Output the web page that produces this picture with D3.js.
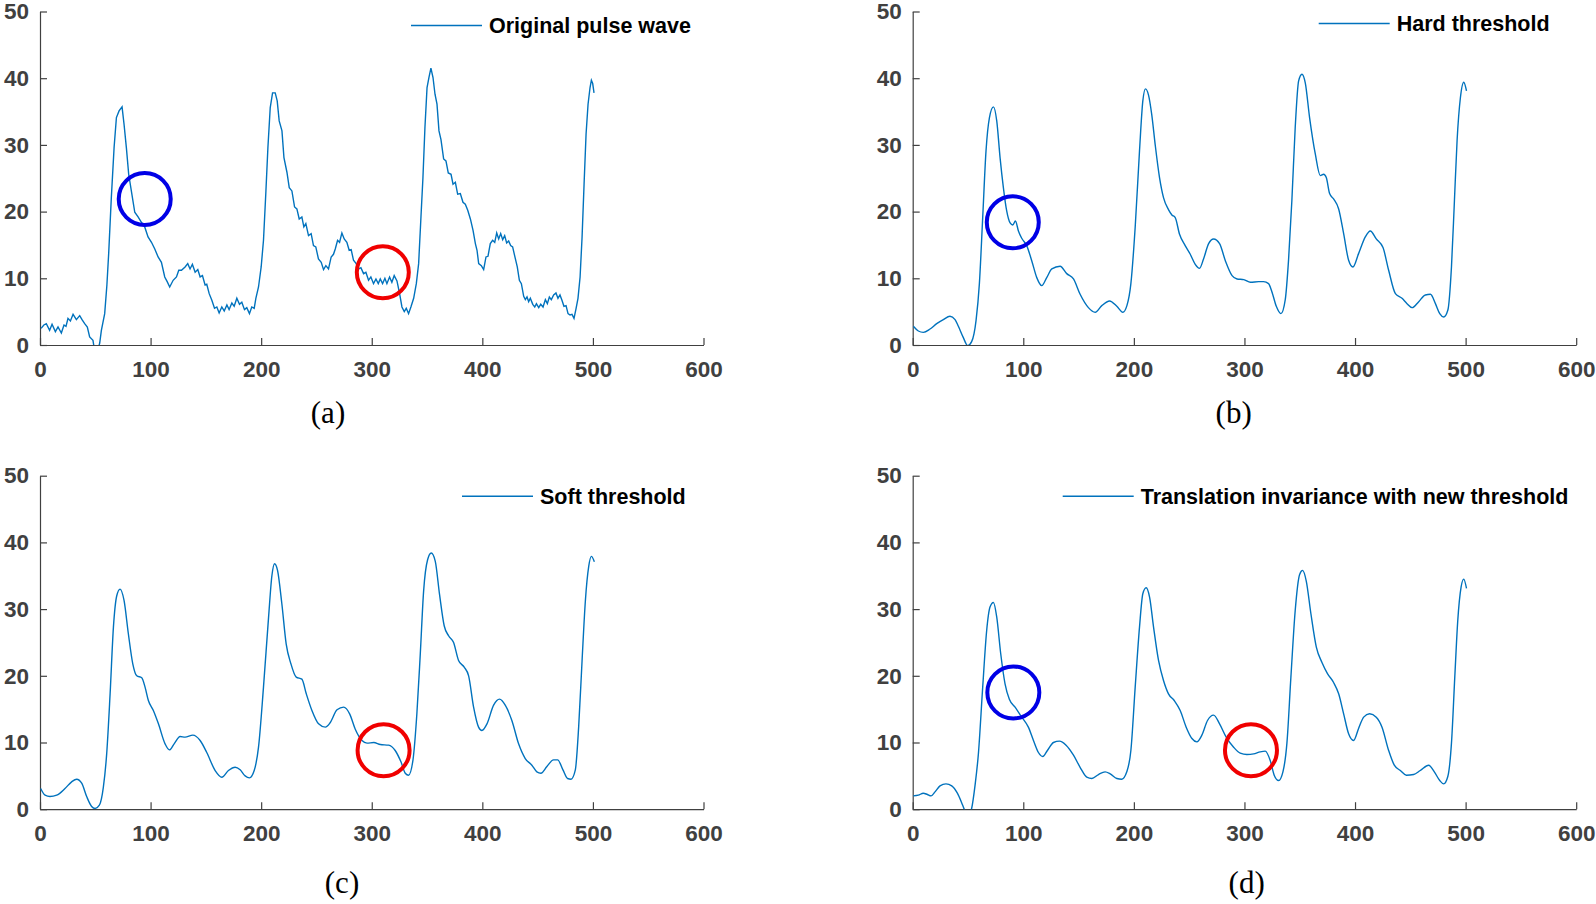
<!DOCTYPE html>
<html>
<head>
<meta charset="utf-8">
<script src="https://cdn.jsdelivr.net/npm/d3@7"></script>
<style>
  body { margin: 0; background: #ffffff; }
  .tick text { font-family: "Liberation Sans", Arial, sans-serif; font-weight: bold; font-size: 22.5px; fill: #404040; }
  .domain, .tick line { stroke: #404040; stroke-width: 1.2; }
</style>
</head>
<body>
<script>
// values: [sample, amplitude]
var originalWave = [[1,2.5],[3.5,3.0],[5.7,3.2],[8.7,2.2],[10.9,3.1],[13.9,2.0],[16.3,2.7],[19.3,1.8],[21.7,3.0],[23.5,2.8],[25.3,4.0],[27.5,3.6],[29.9,4.6],[32.9,3.8],[35.9,4.4],[38,3.8],[40.4,3.2],[42.8,2.7],[44.9,1.2],[47.9,0.7],[50,-1.5],[52,-1.0],[54,0.3],[55.5,2.2],[58.5,4.7],[60.5,9],[62.1,13.7],[64.5,22.1],[67,29.6],[69.1,34.1],[71.5,35.1],[74.2,35.7],[76,33.1],[78.1,29.6],[80.2,25.6],[82.6,23.1],[85.7,19.9],[88.7,19.2],[91.7,18.4],[94.7,17.7],[97.7,16.2],[100.8,15.4],[103.8,14.4],[106.8,13.2],[109.8,12.4],[112.8,10.2],[115,9.5],[117.3,8.7],[120.4,9.7],[123.4,10.2],[125.5,11.2],[127.9,11.2],[131.2,11.7],[133.6,12.2],[135.7,11.4],[137.8,12.1],[140.3,10.9],[142.7,11.3],[144.8,10.2],[146.9,10.4],[149.3,9.0],[150.8,9.1],[153,7.7],[155.4,6.7],[157.8,5.5],[159.9,5.7],[162,4.8],[164.4,5.7],[166.6,5.1],[169,6.0],[171,5.3],[173.5,6.3],[175.6,5.8],[178,7.0],[180.4,6.1],[182.5,6.4],[184.9,5.3],[187,5.6],[189.4,4.7],[191.5,5.7],[193.7,5.5],[195.2,7.0],[197.6,8.7],[200,11.7],[202.1,15.7],[204.3,23.1],[206.1,29.6],[208.2,35.6],[210.3,37.8],[212.7,37.8],[214.5,36.6],[216.3,33.6],[218.8,32.1],[220.6,28.1],[223.3,25.9],[225.4,23.6],[227.8,23.1],[230.2,20.7],[232.3,20.4],[234.4,18.9],[236.8,19.2],[238.6,17.7],[240.4,18.2],[242.8,16.4],[245.2,16.7],[247.3,14.9],[249.4,14.7],[251.8,12.9],[254.3,12.4],[256.4,11.3],[258.5,11.9],[260.9,11.4],[263.3,13.2],[265.4,13.6],[267,14.4],[269.1,15.7],[270.9,15.4],[273,16.8],[275.1,15.9],[277.5,15.4],[279.6,14.2],[281.4,14.3],[283.5,12.7],[285.9,12.2],[288.1,11.4],[290.2,11.6],[292.6,10.7],[294.7,10.9],[297.1,9.7],[299.2,10.2],[301.6,9.2],[303.8,9.9],[305.9,9.2],[307.7,9.9],[309.8,9.2],[311.9,10.0],[313.7,9.2],[316.1,10.2],[318.2,9.4],[320.3,10.4],[322.8,9.6],[325.2,7.7],[327.3,5.7],[329.4,5.0],[331.2,5.5],[333.3,4.7],[335.4,5.7],[337.9,7.0],[340.3,9.2],[342.4,12.2],[344.5,19.2],[346.3,25.1],[348.1,32.6],[350,38.6],[351.7,40.1],[353.5,41.5],[355.4,40.1],[357.2,37.6],[359,36.1],[360.8,32.1],[362.6,30.8],[365,27.9],[367.1,27.6],[369.2,25.8],[371.7,25.6],[373.5,24.1],[375.6,24.4],[377.7,22.6],[380.1,22.7],[382.5,21.4],[384.6,21.1],[386.8,20.2],[389.2,18.9],[391.6,17.2],[393.7,15.2],[395.2,14.2],[396.7,12.2],[399.1,11.9],[401.2,11.3],[403.3,13.2],[405.1,13.3],[407.2,15.2],[409.3,15.7],[411.2,15.4],[413,16.8],[414.8,15.9],[416.6,16.7],[418.4,15.8],[420.2,16.4],[422,15.3],[423.8,15.6],[425.6,14.9],[427.4,14.7],[429.9,12.9],[431.6,11.7],[433.5,9.7],[435.3,9.2],[437.4,7.3],[438.9,6.8],[440.4,7.2],[441.9,6.5],[443.4,7.0],[445.6,6.1],[447.4,5.7],[448.9,6.2],[451,5.6],[452.8,6.1],[454.9,5.7],[457,6.8],[458.8,6.2],[460.6,7.2],[462.4,6.8],[464.5,7.5],[466.6,7.8],[468.4,7.0],[470.2,7.5],[472,6.7],[473.8,5.8],[475.7,5.9],[477.5,4.7],[479.3,4.5],[481.1,4.6],[482.9,4.0],[484.7,5.4],[486.5,7.0],[488.4,10.2],[490.2,16.2],[492,24.1],[493.8,31.6],[495.6,36.1],[497.4,38.6],[498.6,39.7],[499.8,39.2],[501,37.8]];

var hardWave = [[0.6,2.8],[5.1,2.1],[9.6,1.9],[15.7,2.4],[21.7,3.2],[27.7,3.8],[33.7,4.3],[38.3,3.8],[41.3,2.8],[45.8,1.1],[49.7,-0.1],[53.3,0.5],[57.3,3.7],[60.3,9.2],[63.3,19.1],[66.3,29.1],[69.4,34.1],[73,35.7],[76,33.6],[79,28.1],[82,23.6],[85,20.1],[88.1,18.3],[90.5,18.0],[92.9,18.6],[95.6,17.1],[98.6,16.0],[103.1,14.9],[107.7,12.6],[112.2,10.1],[116.7,8.9],[121.2,10.1],[125.8,11.4],[133.3,11.8],[139.3,10.7],[145.4,9.9],[151.4,7.6],[158.9,5.6],[165,4.9],[171,5.9],[178,6.6],[184.6,5.8],[190,4.9],[193.7,5.9],[197.3,9.2],[201.2,17.7],[205.1,29.1],[208.1,36.6],[210.5,38.4],[213.2,37.5],[216.2,34.5],[219.3,30.0],[223.2,25.1],[226.8,22.1],[231.3,20.3],[234.4,19.5],[237.4,19.1],[241.3,16.6],[246.4,14.9],[251,13.6],[255.5,12.1],[259.4,11.5],[263,12.9],[267.6,15.2],[272.1,15.9],[277.5,15.2],[282.8,12.6],[288.8,10.4],[293.3,9.9],[299.4,9.8],[305.4,9.4],[312.9,9.5],[317.3,9.5],[321.8,9.2],[324.8,8.0],[328.8,5.8],[333,4.7],[336.9,6.8],[339.9,12.8],[342.9,21.7],[345.9,32.6],[349,39.6],[352,40.6],[355,39.3],[358.9,34.1],[364.1,28.6],[368.6,25.4],[371.6,25.6],[374,25.1],[377,22.7],[380.6,21.9],[385.2,20.4],[389.7,16.7],[394.2,12.7],[398.1,11.7],[403.2,13.7],[409.3,16.2],[413.8,17.1],[419.2,15.9],[425.3,14.6],[430.4,11.2],[436.5,7.7],[442.5,7.0],[447,6.2],[451.6,5.6],[457.6,6.5],[463.6,7.5],[468.2,7.6],[472.7,6.2],[476.6,4.7],[480.2,4.2],[483.9,5.2],[487.2,11.7],[489.9,21.7],[492.3,30.7],[495.3,37.1],[498.3,39.4],[500.8,38.1]];

var softWave = [[0.6,3.1],[4.6,2.1],[9,1.9],[15.1,2.1],[22.6,3.1],[28.6,4.1],[33.2,4.5],[37.7,3.9],[42.2,1.9],[46.7,0.4],[49.8,0.1],[53.7,0.6],[57.3,3.3],[60.3,8.3],[63.4,17.3],[66.4,27.3],[69.4,32.0],[72.4,33.0],[76,31.3],[79.9,26.3],[83.9,21.8],[87.5,20.0],[92,19.7],[95,18.3],[98,16.3],[102.5,14.8],[107.1,12.8],[113.1,9.8],[117,8.9],[121.3,9.8],[126.7,10.9],[131.2,10.8],[138.2,11.1],[144.8,10.3],[150.8,8.5],[158.4,5.8],[164.4,4.8],[170.4,5.8],[176.5,6.3],[181,5.9],[185.5,5.0],[189.4,4.7],[193.7,5.8],[197.6,9.3],[202.1,18.3],[206.7,28.8],[209.7,35.0],[212.1,36.8],[214.8,35.8],[218.7,30.8],[222.6,24.8],[226.9,21.8],[231.7,19.8],[236.8,19.5],[240.8,17.3],[245.9,14.8],[251.9,12.8],[258,12.3],[262.5,13.0],[268.6,14.9],[274.6,15.3],[280,14.3],[285.1,12.0],[291.2,10.3],[295.7,9.9],[301.8,10.0],[307.8,9.7],[315.2,9.6],[321.2,8.8],[326.4,7.1],[330.3,5.4],[333.3,5.1],[337.3,7.4],[340.8,14.3],[343.9,23.3],[346.9,32.7],[350.5,37.4],[353.8,38.4],[357.4,37.2],[361.3,32.2],[365.5,27.5],[369.5,26.0],[374,25.0],[378.5,22.3],[383.6,21.3],[387.6,20.0],[392.1,15.3],[396.6,12.3],[399.6,11.8],[404.2,12.8],[410.2,15.6],[415.6,16.5],[420.7,15.6],[426.7,13.3],[432.8,9.8],[438.8,7.6],[444.8,6.6],[449.3,5.6],[453,5.4],[458.4,6.4],[464.4,7.4],[468.1,7.4],[472.9,5.9],[477.1,4.6],[480.2,4.5],[484.1,5.9],[487.1,12.3],[490.2,22.3],[493.2,31.3],[496.2,36.4],[498.6,37.9],[501.3,37.1]];

var newWave = [[0.6,2.0],[5.1,2.1],[9.6,2.4],[13.3,2.2],[16.6,2.0],[20.2,2.6],[24.7,3.5],[30.1,3.8],[35.3,3.5],[40.4,2.4],[45.2,0.6],[48.2,-0.6],[50.6,-0.85],[53.3,0.1],[56.4,3.6],[59.4,8.3],[63.3,18.3],[66.9,26.8],[69.9,30.3],[73,31.0],[76,28.8],[79.6,23.3],[83.5,18.8],[87.4,16.5],[92.6,15.3],[98.6,13.8],[104.6,12.3],[109.2,10.3],[113.7,8.5],[117.6,7.9],[121.8,8.8],[127.3,10.0],[132.7,10.2],[138.7,9.6],[145.4,8.1],[152,6.1],[157.4,4.8],[162,4.6],[168,5.2],[174,5.6],[178.6,5.3],[184.6,4.6],[189.1,4.5],[193.6,5.6],[197.3,8.8],[201.2,18.3],[205.1,27.3],[208.1,32.3],[211.1,33.2],[214.2,31.8],[217.8,27.3],[222.3,22.3],[226.8,19.3],[231.3,17.3],[236.5,16.3],[241.9,14.8],[247.3,12.3],[252.5,10.6],[257,10.1],[261.5,11.1],[266.6,13.3],[272.1,14.1],[277.5,12.8],[283.5,10.8],[290.2,9.3],[296.2,8.4],[302.2,8.2],[308.3,8.3],[314.3,8.6],[318.8,8.7],[323.3,7.3],[326.9,5.1],[330.9,4.3],[334.8,5.6],[338.4,9.9],[342,19.8],[345.9,29.8],[349.9,35.2],[352.6,35.8],[355.9,34.2],[360.1,29.3],[365,24.3],[370.1,22.0],[375.2,20.3],[380.6,19.0],[385.2,17.3],[389.7,14.3],[394.2,11.3],[398.7,10.3],[403.2,12.1],[407.8,13.8],[413.2,14.3],[419.2,13.8],[424.4,12.3],[430.4,8.8],[435.5,6.6],[441,5.8],[446.4,5.1],[453,5.2],[459,5.8],[466.6,6.6],[471.7,5.6],[476.6,4.3],[480.2,3.8],[483.9,4.9],[487.2,9.9],[490.2,19.8],[492.9,28.3],[495.9,33.3],[498.3,34.5],[500.8,33.1]];

var legendNames = ["Original pulse wave", "Hard threshold", "Soft threshold", "Translation invariance with new threshold"];
var panelLetters = ["(a)", "(b)", "(c)", "(d)"];
var xTicks = [0, 100, 200, 300, 400, 500, 600];
var yTicks = [0, 10, 20, 30, 40, 50];
// marked regions, in data units: [sample, amplitude, colour]
var marksA = [[94.7, 21.9, "blue"], [310, 10.9, "red"]];
var marksB = [[90.5, 18.4, "blue"]];
var marksC = [[310.7, 8.85, "red"]];
var marksD = [[91, 17.5, "blue"], [305.9, 8.85, "red"]];

var panels = [
  {data: originalWave, marks: marksA, left: 40,    top: 11.5, legX: 371, legY: 14, labX: 288, labY: 423},
  {data: hardWave,     marks: marksB, left: 912.7, top: 11.5, legX: 406, legY: 12, labX: 321, labY: 423},
  {data: softWave,     marks: marksC, left: 40,    top: 475.7, legX: 422, legY: 20.5, labX: 302, labY: 893},
  {data: newWave,      marks: marksD, left: 912.7, top: 475.7, legX: 150, legY: 20.5, labX: 334, labY: 893}
];
var W = 663.5, H = 333.5;
var markColor = {blue: "#0000e6", red: "#f00000"};

var svg = d3.select("body").append("svg").attr("width", 1596).attr("height", 904)
  .style("display", "block").style("background", "#ffffff");

var x = d3.scaleLinear().domain([0, 600]).range([0, W]);
var y = d3.scaleLinear().domain([0, 50]).range([H, 0]);

var line = d3.line()
  .x(function(d) { return x(d[0]); })
  .y(function(d) { return y(d[1]); });

panels.forEach(function(p, i) {
  var g = svg.append("g").attr("transform", "translate(" + p.left + "," + p.top + ")");

  g.append("clipPath").attr("id", "clip" + i)
    .append("rect").attr("x", 0).attr("y", -5).attr("width", W).attr("height", H + 5);

  g.append("g").attr("transform", "translate(0," + H + ")")
    .call(d3.axisBottom(x).tickValues(xTicks).tickSizeInner(-7).tickSizeOuter(0).tickPadding(16));
  g.append("g")
    .call(d3.axisLeft(y).tickValues(yTicks).tickSizeInner(-7).tickSizeOuter(0).tickPadding(11));

  g.append("path").datum(p.data)
    .attr("clip-path", "url(#clip" + i + ")")
    .attr("fill", "none").attr("stroke", "#0072bd").attr("stroke-width", 1.4)
    .attr("d", i === 0 ? line.curve(d3.curveLinear) : line.curve(d3.curveMonotoneX));

  g.selectAll("circle.mark").data(p.marks).enter().append("circle")
    .attr("class", "mark")
    .attr("cx", function(d) { return x(d[0]); })
    .attr("cy", function(d) { return y(d[1]); })
    .attr("r", 26)
    .attr("fill", "none")
    .attr("stroke", function(d) { return markColor[d[2]]; })
    .attr("stroke-width", 4);

  // legend
  g.append("line").attr("x1", p.legX).attr("x2", p.legX + 71)
    .attr("y1", p.legY).attr("y2", p.legY)
    .attr("stroke", "#0072bd").attr("stroke-width", 1.4);
  g.append("text").attr("x", p.legX + 78).attr("y", p.legY + 7.5)
    .style("font-family", "'Liberation Sans', Arial, sans-serif")
    .style("font-weight", "bold").style("font-size", "21.5px").attr("fill", "#000")
    .text(legendNames[i]);

  svg.append("text").attr("x", p.left + p.labX).attr("y", p.labY)
    .attr("text-anchor", "middle")
    .style("font-family", "'Liberation Serif', 'Times New Roman', serif")
    .style("font-size", "31px").attr("fill", "#000")
    .text(panelLetters[i]);
});
</script>
</body>
</html>
